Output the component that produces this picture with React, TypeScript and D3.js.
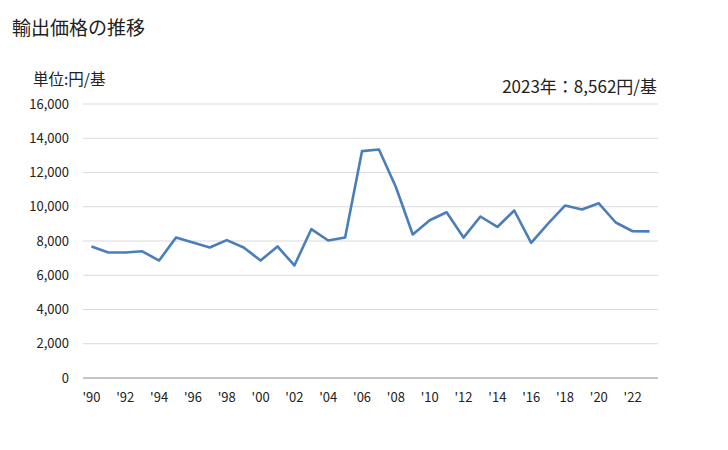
import React from "react";
import * as d3 from "d3";

const years: number[] = [1990,1991,1992,1993,1994,1995,1996,1997,1998,1999,2000,2001,2002,2003,2004,2005,2006,2007,2008,2009,2010,2011,2012,2013,2014,2015,2016,2017,2018,2019,2020,2021,2022,2023];
const values: number[] = [7680,7330,7330,7400,6860,8200,7910,7620,8050,7620,6860,7680,6570,8690,8030,8200,13250,13340,11150,8380,9210,9680,8200,9430,8820,9780,7890,9020,10070,9840,10200,9080,8570,8562];
const yTicks: number[] = [0,2000,4000,6000,8000,10000,12000,14000,16000];
const xTickYears: number[] = [1990,1992,1994,1996,1998,2000,2002,2004,2006,2008,2010,2012,2014,2016,2018,2020,2022];

const title = "輸出価格の推移";
const unitLabel = "単位:円/基";
const latestLabel = "2023年：8,562円/基";

export default function App() {
  const W = 728, H = 450;
  const left = 83, right = 658, top = 104, bottom = 378;
  const x = d3.scalePoint<number>().domain(years).range([left, right]).padding(0.5);
  const y = d3.scaleLinear().domain([0, 16000]).range([bottom, top]);
  const line = d3.line<number>().x((_, i) => x(years[i]) as number).y((d) => y(d));
  const fmt = d3.format(",");
  const font = "'Noto Sans CJK JP', 'Noto Sans', sans-serif";
  return (
    <svg width={W} height={H} style={{ position: "absolute", left: 0, top: 0, background: "#fff" }} fontFamily={font}>
      <text x={12} y={35} fontSize={19} fill="#222">{title}</text>
      <text x={33} y={85} fontSize={15.5} fill="#222">{unitLabel}</text>
      <text x={657} y={93} fontSize={17} fill="#222" textAnchor="end">{latestLabel}</text>
      {yTicks.map((t) => (
        <g key={t}>
          {t > 0 && <line x1={left} x2={right} y1={y(t)} y2={y(t)} stroke="#d9d9d9" strokeWidth={1} />}
          <text x={69} y={y(t)} dy="0.35em" fontSize={13} textAnchor="end" fill="#222">{fmt(t)}</text>
        </g>
      ))}
      <line x1={left} x2={right} y1={y(0)} y2={y(0)} stroke="#888" strokeWidth={1} />
      {xTickYears.map((yr) => (
        <text key={yr} x={x(yr) as number} y={402} fontSize={13} textAnchor="middle" fill="#222">
          {"'" + String(yr).slice(2)}
        </text>
      ))}
      <path d={line(values) || ""} fill="none" stroke="#4a7ebb" strokeWidth={2.6} strokeLinejoin="round" />
    </svg>
  );
}
